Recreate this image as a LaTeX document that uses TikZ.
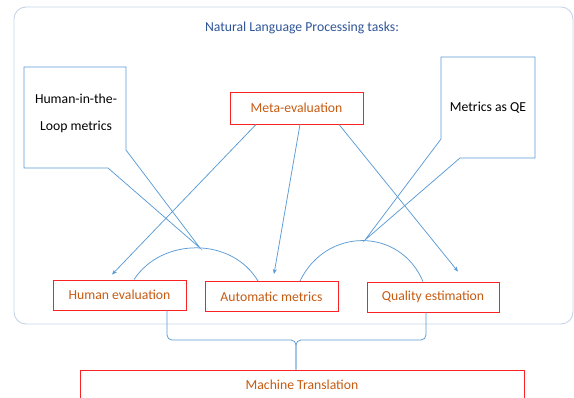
\documentclass[tikz,border=0pt]{standalone}
\usepackage{fontspec}
\setmainfont{Carlito}
\usetikzlibrary{arrows.meta}
\definecolor{lblue}{RGB}{91,155,213}
\definecolor{tblue}{RGB}{47,85,151}
\definecolor{otext}{RGB}{197,90,17}
\definecolor{rbox}{RGB}{250,35,35}
\definecolor{framec}{RGB}{198,212,230}
\tikzset{
  conn/.style={draw=lblue, line width=0.75pt},
  arr/.style={conn, -{Stealth[length=5pt,width=4pt]}},
  redbox/.style={draw=rbox, line width=0.9pt, text=otext, minimum width=133pt, minimum height=30pt, inner sep=0pt, font=\fontsize{13.7}{16}\selectfont},
  calltext/.style={text=black, align=center, font=\fontsize{13.7}{27}\selectfont, inner sep=0pt}
}
\begin{document}
\begin{tikzpicture}[x=1pt,y=-1pt]
\useasboundingbox (0,0) rectangle (574,398);
\clip (0,0) rectangle (574,398);
% outer frame
\draw[framec, line width=0.9pt, rounded corners=12pt] (14,7) rectangle (573,324);
\node[text=tblue, font=\fontsize{13.7}{16}\selectfont] (title) at (302,28) {Natural Language Processing tasks:};

% callouts
\coordinate (ltip) at (200,248);
\coordinate (rtip) at (365,240);
\draw[conn] (24,67) -- (126,67) -- (126,150) -- (ltip) -- (108,168) -- (24,168) -- cycle;
\node[calltext] (hitl) at (76,113.5) {Human-in-the-\\Loop metrics};
\draw[conn] (441,57) -- (535,57) -- (535,158) -- (460,158) -- (rtip) -- (441,139) -- cycle;
\node[calltext] (mqe) at (488,108) {Metrics as QE};

% boxes
\node[redbox, minimum height=32pt] (meta) at (296.5,108) {Meta-evaluation};
\node[redbox] (hev) at (119.5,295) {Human evaluation};
\node[redbox] (aut) at (271.5,296.5) {Automatic metrics};
\node[redbox, minimum width=132pt] (qe) at (433,297) {Quality estimation};
\node[redbox, minimum width=444pt] (mt) at (302,385) {Machine Translation};

% arrows from meta-evaluation
\draw[arr] ([xshift=-40.5pt]meta.south) -- ([xshift=-7.5pt,yshift=5pt]hev.north);
\draw[arr] ([xshift=3.5pt]meta.south) -- ([xshift=2.5pt,yshift=7pt]aut.north);
\draw[arr] ([xshift=42.5pt]meta.south) -- ([xshift=25pt,yshift=10pt]qe.north);

% arcs
\draw[conn] ([xshift=14.5pt]hev.north) .. controls (162,237) and (232,237) .. ([xshift=-13.5pt]aut.north);
\draw[conn] ([xshift=28.5pt]aut.north) .. controls (326,227) and (400,227) .. ([xshift=-10pt]qe.north);

% brace
\coordinate (bl) at ([xshift=47.5pt]hev.south);
\coordinate (br) at ([xshift=-7pt]qe.south);
\coordinate (bm) at ([xshift=-6pt]mt.north);
\coordinate (by) at (0,340);
\draw[conn, rounded corners=5pt] (bl) -- (bl |- by) -- (bm |- by) -- (bm);
\draw[conn, rounded corners=5pt] (br) -- (br |- by) -- (bm |- by) -- (bm);
\end{tikzpicture}
\end{document}
